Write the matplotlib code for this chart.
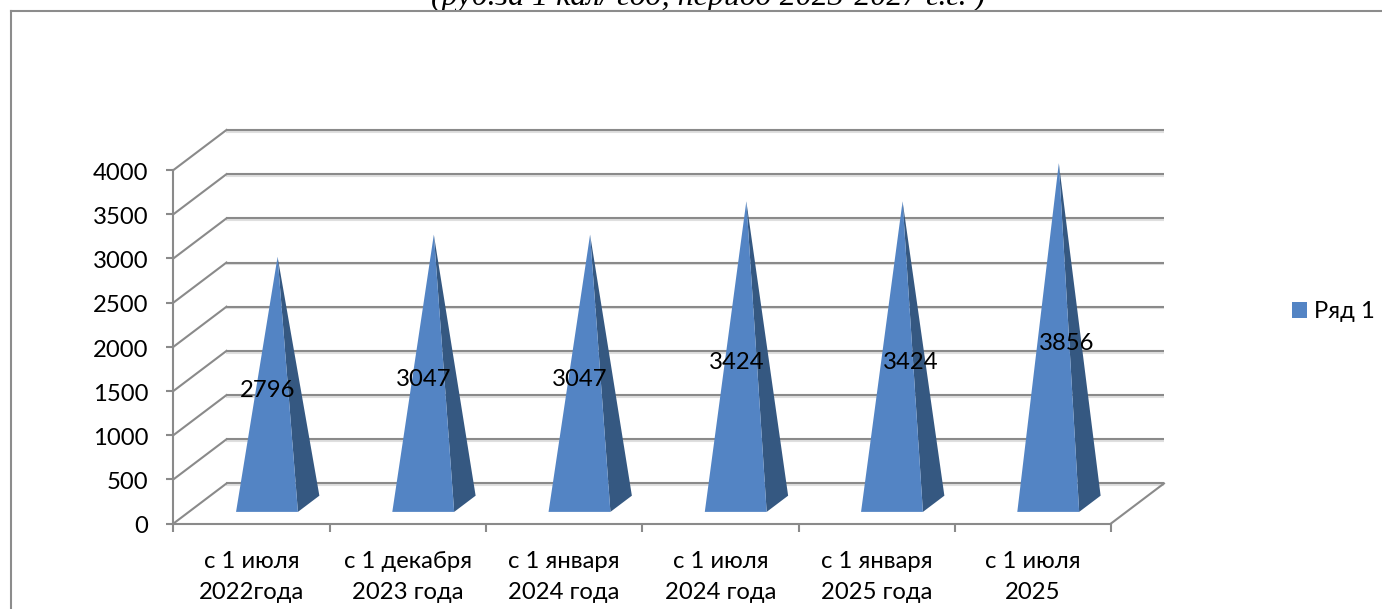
import matplotlib
matplotlib.use("Agg")
import matplotlib.pyplot as plt
import matplotlib.patheffects as pe
from matplotlib.lines import Line2D
from matplotlib.patches import Patch, Polygon
from matplotlib.transforms import Bbox, ScaledTranslation

# Chart content
categories = ["с 1 июля\n2022года", "с 1 декабря\n2023 года", "с 1 января\n2024 года",
              "с 1 июля\n2024 года", "с 1 января\n2025 года", "с 1 июля\n2025"]
values = [2796, 3047, 3047, 3424, 3424, 3856]
y_ticks = [0, 500, 1000, 1500, 2000, 2500, 3000, 3500, 4000]
series_name = "Ряд 1"
title = "(руб.за 1 кал/ год, период 2023-2027 г.г. )"

# Oblique projection of the chart's depth axis, in category and value units
DEPTH_X = 0.339
DEPTH_Y = 453
BAR_HALF = 0.198
BAR_FRONT, BAR_BACK = 0.29, 0.695
BAR_MID = 0.49

GREY = "#8a8a8a"
FRONT = "#5384C4"
SIDE = "#355881"
FONT = ["Lato", "Open Sans", "DejaVu Sans"]
FONT_SIZE = 17.2
W, H = 1382, 609


def project(x, v, d):
    return (x + d * DEPTH_X, v + d * DEPTH_Y)


fig = plt.figure(figsize=(W / 100, H / 100), dpi=100)
ax = fig.add_axes([173.5 / W, (H - 523.5) / H, (1111 - 173.5) / W, (523.5 - 170) / H])
ax.set_xlim(0, len(categories))
ax.set_ylim(0, 4000)
ax.patch.set_visible(False)

for s in ("top", "right"):
    ax.spines[s].set_visible(False)
for s in ("left", "bottom"):
    ax.spines[s].set_color(GREY)
    ax.spines[s].set_linewidth(1.5)

ax.set_yticks(y_ticks)
ax.set_xticks(range(len(categories) + 1))
ax.set_xticklabels([])
ax.set_xticks([i + 0.5 for i in range(len(categories))], minor=True)
ax.set_xticklabels(categories, minor=True, fontsize=FONT_SIZE, family=FONT, linespacing=1.6)
ax.tick_params(axis="y", length=5, width=1.5, color=GREY, pad=13, labelsize=FONT_SIZE)
ax.tick_params(axis="x", which="major", length=6, width=1.5, color=GREY)
ax.tick_params(axis="x", which="minor", length=0, pad=20)
nudge = ScaledTranslation(0, -1 / 72, fig.dpi_scale_trans)
for lab in ax.get_yticklabels():
    lab.set_family(FONT)
    lab.set_transform(lab.get_transform() + nudge)

# Side wall, back wall and floor edge
shadow = [pe.SimpleLineShadow(offset=(0, -1.2), shadow_color="#d2d2d2", alpha=0.7), pe.Normal()]
n = len(categories)
for v in y_ticks:
    x0, y0 = project(0, v, 1)
    x1, y1 = project(n, v, 1)
    ax.plot([x0, x1], [y0, y1], color=GREY, lw=1.5, clip_on=False, zorder=1,
            path_effects=shadow, solid_capstyle="butt")
    ax.plot([0, x0], [v, y0], color=GREY, lw=1.5, clip_on=False, zorder=1)
x_end, y_end = project(n, 0, 1)
ax.plot([n, x_end], [0, y_end], color=GREY, lw=1.5, clip_on=False, zorder=1)

# Pyramids: a lit front face and a darker right face
for i, v in enumerate(values):
    c = i + 0.5
    apex = project(c, v, BAR_MID)
    fl = project(c - BAR_HALF, 0, BAR_FRONT)
    fr = project(c + BAR_HALF, 0, BAR_FRONT)
    br = project(c + BAR_HALF, 0, BAR_BACK)
    ax.add_patch(Polygon([fr, br, apex], closed=True, fc=SIDE, ec="none", clip_on=False, zorder=3))
    ax.add_patch(Polygon([fl, fr, apex], closed=True, fc=FRONT, ec="none", clip_on=False, zorder=4))

# Value labels; the last two sit further right on their pyramids
label_shift = [0.102, 0.102, 0.102, 0.102, 0.218, 0.218]
for i, v in enumerate(values):
    lx, ly = project(i + 0.5 + label_shift[i], v / 2 - 115, BAR_MID)
    ax.text(lx - BAR_MID * DEPTH_X, ly, str(v), ha="center", va="center", fontsize=FONT_SIZE,
            family=FONT, color="black", clip_on=False, zorder=6)

# Outer frame
frame_color = "#8c8c8c"
fig.add_artist(Line2D([10.5 / W, 10.5 / W], [0, (H - 10.5) / H], color=frame_color, lw=1.5))
fig.add_artist(Line2D([10.5 / W, 1], [(H - 10.5) / H, (H - 10.5) / H], color=frame_color, lw=1.5))

# Heading, cut off by the image edge above and the frame below
t = fig.text(708.5 / W, (H - 5) / H, title, ha="center", va="baseline", family="Liberation Serif",
             style="italic", fontsize=23, color="black")
t.set_clip_box(Bbox([[0, H - 10], [W, H]]))
t.set_clip_on(True)

fig.legend(handles=[Patch(facecolor=FRONT, label=series_name)], loc="center left",
           bbox_to_anchor=(1292 / W, (H - 312) / H), frameon=False,
           prop={"family": FONT, "size": FONT_SIZE},
           handlelength=0.62, handleheight=0.62, handletextpad=0.3, borderpad=0, borderaxespad=0)

fig.savefig("out.png", dpi=100)
